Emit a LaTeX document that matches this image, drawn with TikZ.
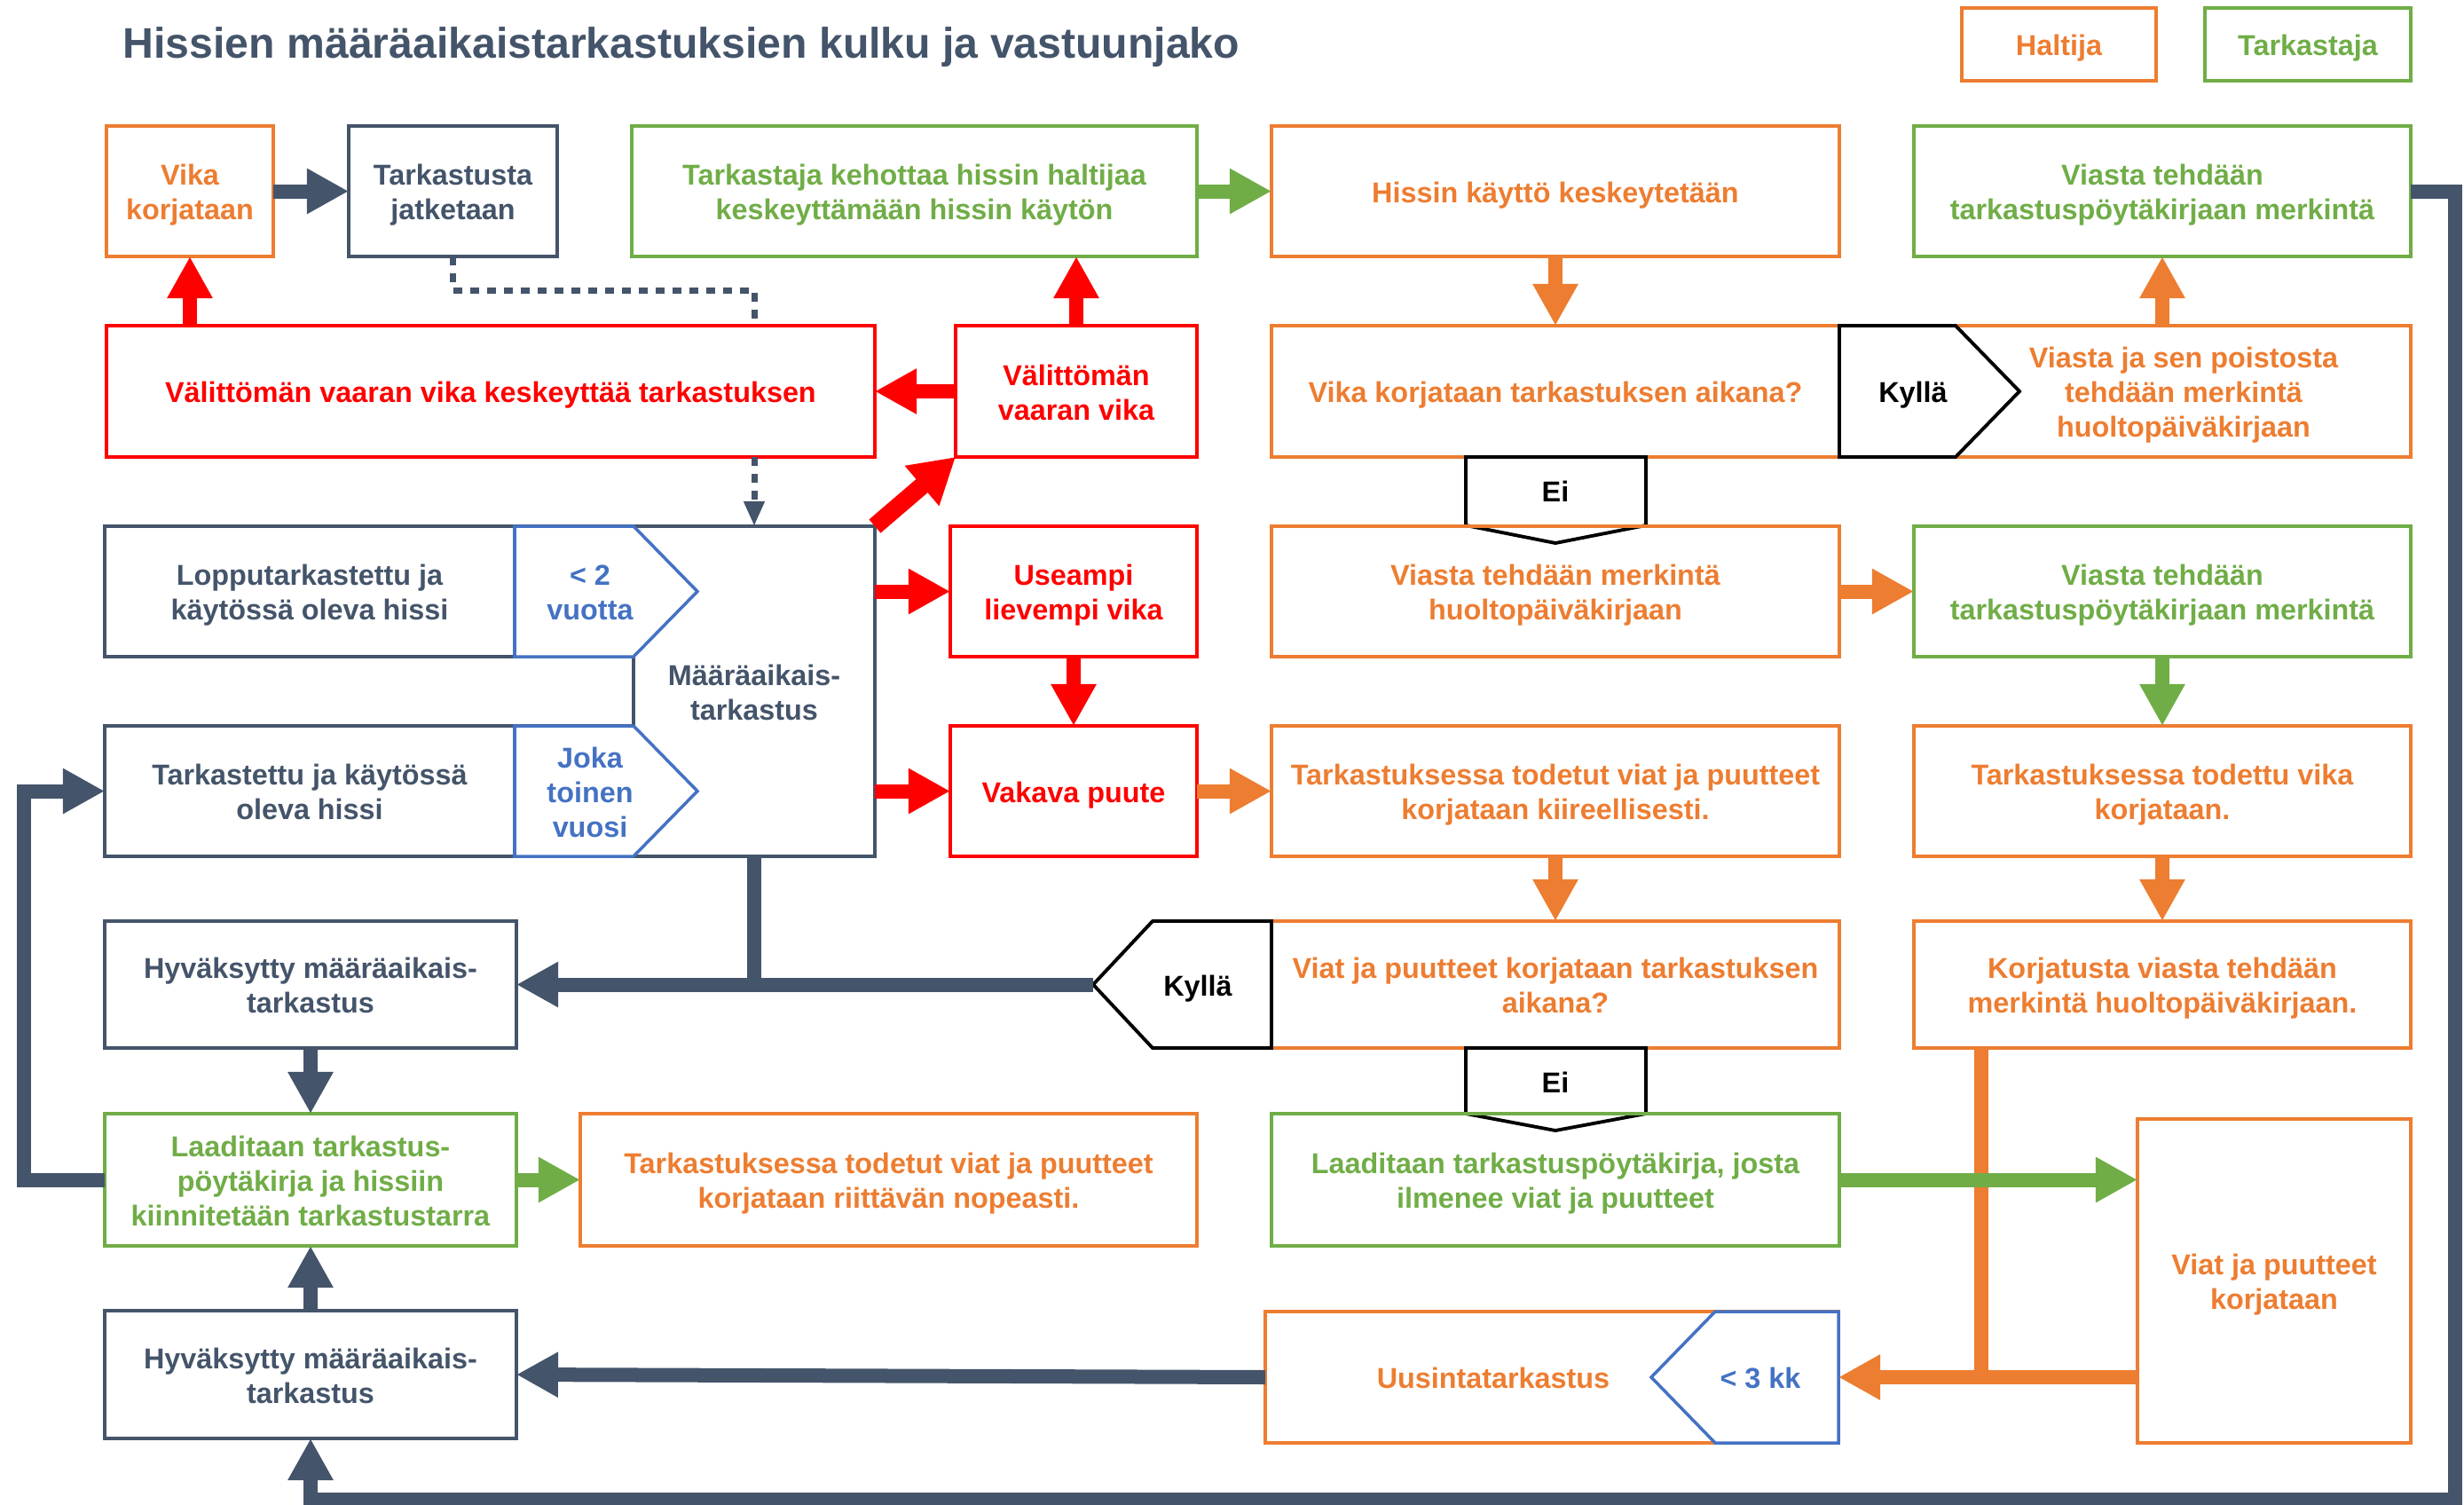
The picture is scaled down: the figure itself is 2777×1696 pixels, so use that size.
\documentclass[tikz,border=0pt]{standalone}
\usepackage{fontspec}
\setmainfont{Liberation Sans}
\usetikzlibrary{arrows.meta,calc}
\definecolor{slate}{HTML}{44546A}
\definecolor{haltija}{HTML}{ED7D31}
\definecolor{tarkastaja}{HTML}{70AD47}
\definecolor{vaara}{HTML}{FF0000}
\definecolor{aika}{HTML}{4472C4}
% fixed line box: every text block gets the same ascent on its first line
% and the same descent on its last line, so blocks centre by line metrics
\newcommand\linestrut{\rule[-1.95pt]{0pt}{11.1pt}}
\newcommand\boxtext[1]{\linestrut#1\linestrut}
\tikzset{
  every node/.style={font=\bfseries\fontsize{9.2}{11.1}\selectfont},
  wh/.style 2 args={minimum width=#1*0.01cm, minimum height=#2*0.01cm},
  box/.style={rectangle, draw=#1, text=#1, line width=1pt, inner sep=0pt, outer sep=0pt, align=center},
  lbl/.style={text=#1, align=center, inner sep=0pt, outer sep=0pt},
  area/.style 2 args={rectangle, inner sep=0pt, outer sep=0pt, minimum width=#1*0.01cm, minimum height=#2*0.01cm},
  tag/.style={draw=black, fill=white, line width=1.1pt, line join=miter},
  period/.style={draw=aika, fill=white, line width=1pt, line join=miter},
  flow/.style={draw=#1, line width=0.16cm, line join=miter, -{Triangle[length=0.47cm,width=0.48cm]}},
  bigflow/.style={draw=#1, line width=0.2cm, -{Triangle[length=0.5cm,width=0.56cm]}},
  link/.style={draw=#1, line width=0.16cm, line join=miter},
  dots/.style={draw=slate, line width=0.07cm, dash pattern=on 0.1cm off 0.09cm},
}
\begin{document}
\begin{tikzpicture}[x=0.01cm, y=-0.01cm]
\useasboundingbox (0,0) rectangle (2777,1696);

% title and legend
\node[anchor=base west, text=slate, inner sep=0pt, font=\bfseries\fontsize{13.7}{16}\selectfont] (title) at (138,65) {Hissien määräaikaistarkastuksien kulku ja vastuunjako};
\node[box=haltija, wh={219}{82}] (leg1) at (2320.5,50) {\boxtext{Haltija}};
\node[box=tarkastaja, wh={232}{82}] (leg2) at (2601,50) {\boxtext{Tarkastaja}};

% row 1
\node[box=haltija, wh={188}{147}] (vika) at (214,215.5) {\boxtext{Vika\\korjataan}};
\node[box=slate, wh={235}{147}] (jatk) at (510.5,215.5) {\boxtext{Tarkastusta\\jatketaan}};
\node[box=tarkastaja, wh={637}{147}] (kehot) at (1030.5,215.5) {\boxtext{Tarkastaja kehottaa hissin haltijaa\\keskeyttämään hissin käytön}};
\node[box=haltija, wh={640}{147}] (kesk) at (1753,215.5) {\boxtext{Hissin käyttö keskeytetään}};
\node[box=tarkastaja, wh={560}{147}] (tpk1) at (2437,215.5) {\boxtext{Viasta tehdään\\tarkastuspöytäkirjaan merkintä}};

% row 2
\node[box=vaara, wh={866}{148}] (keskt) at (553,441) {\boxtext{Välittömän vaaran vika keskeyttää tarkastuksen}};
\node[box=vaara, wh={272}{148}] (vvv) at (1213,441) {\boxtext{Välittömän\\vaaran vika}};
\node[box=haltija, wh={1284}{148}] (korj) at (2075,441) {};
\node[lbl=haltija] (korjq) at (1753,441) {\boxtext{Vika korjataan tarkastuksen aikana?}};
\node[lbl=haltija] (korjk) at (2461,441) {\boxtext{Viasta ja sen poistosta\\tehdään merkintä\\huoltopäiväkirjaan}};
\draw[tag] (2073,367) -- (2204,367) -- (2276,441) -- (2204,515) -- (2073,515) -- cycle;
\node[lbl=black] (kylla1) at (2156,441) {\boxtext{Kyllä}};
\draw[tag] (1652,515) -- (1652,592) -- (1753,612) -- (1855,592) -- (1855,515) -- cycle;
\node[lbl=black] (ei1) at (1753,553) {\boxtext{Ei}};

% periodic inspection block
\draw[slate, line width=1pt, line join=miter] (118,593) -- (986,593) -- (986,965) -- (118,965) -- (118,818) -- (714,818) -- (714,740) -- (118,740) -- cycle;
\node[area={272}{372}, lbl=slate] (maara) at (850,779) {\boxtext{Määräaikais-\\tarkastus}};
\node[area={462}{147}, lbl=slate] (lopp) at (349,666.5) {\boxtext{Lopputarkastettu ja\\käytössä oleva hissi}};
\node[area={462}{147}, lbl=slate] (tark) at (349,891.5) {\boxtext{Tarkastettu ja käytössä\\oleva hissi}};
\draw[period] (580,593) -- (714,593) -- (786,666.5) -- (714,740) -- (580,740) -- cycle;
\node[lbl=aika] (v2) at (665,666.5) {\boxtext{< 2\\vuotta}};
\draw[period] (580,818) -- (714,818) -- (786,891.5) -- (714,965) -- (580,965) -- cycle;
\node[lbl=aika] (v1) at (665,891.5) {\boxtext{Joka\\toinen\\vuosi}};

% rows 3 and 4
\node[box=vaara, wh={278}{147}] (useampi) at (1210,666.5) {\boxtext{Useampi\\lievempi vika}};
\node[box=haltija, wh={640}{147}] (hpk1) at (1753,666.5) {\boxtext{Viasta tehdään merkintä\\huoltopäiväkirjaan}};
\node[box=tarkastaja, wh={560}{147}] (tpk2) at (2437,666.5) {\boxtext{Viasta tehdään\\tarkastuspöytäkirjaan merkintä}};
\node[box=vaara, wh={278}{147}] (vakava) at (1210,891.5) {\boxtext{Vakava puute}};
\node[box=haltija, wh={640}{147}] (kiire) at (1753,891.5) {\boxtext{Tarkastuksessa todetut viat ja puutteet\\korjataan kiireellisesti.}};
\node[box=haltija, wh={560}{147}] (todettu) at (2437,891.5) {\boxtext{Tarkastuksessa todettu vika\\korjataan.}};

% row 5
\node[box=slate, wh={464}{143}] (hyv1) at (350,1109.5) {\boxtext{Hyväksytty määräaikais-\\tarkastus}};
\node[box=haltija, wh={640}{143}] (aikana2) at (1753,1109.5) {\boxtext{Viat ja puutteet korjataan tarkastuksen\\aikana?}};
\node[box=haltija, wh={560}{143}] (korjatusta) at (2437,1109.5) {\boxtext{Korjatusta viasta tehdään\\merkintä huoltopäiväkirjaan.}};
\draw[tag] (1433,1038) -- (1299,1038) -- (1232,1109.5) coordinate (k2tip) -- (1299,1181) -- (1433,1181) -- cycle;
\node[lbl=black] (kylla2) at (1350,1110) {\boxtext{Kyllä}};
\draw[tag] (1652,1181) -- (1652,1255) -- (1753,1274) -- (1855,1255) -- (1855,1181) -- cycle;
\node[lbl=black] (ei2) at (1753,1219) {\boxtext{Ei}};

% row 6
\node[box=tarkastaja, wh={464}{149}] (laad1) at (350,1329.5) {\boxtext{Laaditaan tarkastus-\\pöytäkirja ja hissiin\\kiinnitetään tarkastustarra}};
\node[box=haltija, wh={695}{149}] (riitt) at (1001.5,1329.5) {\boxtext{Tarkastuksessa todetut viat ja puutteet\\korjataan riittävän nopeasti.}};
\node[box=tarkastaja, wh={640}{149}] (laad2) at (1753,1329.5) {\boxtext{Laaditaan tarkastuspöytäkirja, josta\\ilmenee viat ja puutteet}};
\node[box=haltija, wh={308}{365}] (vpk) at (2563,1443.5) {\boxtext{Viat ja puutteet\\korjataan}};

% row 7
\node[box=slate, wh={464}{144}] (hyv2) at (350,1549) {\boxtext{Hyväksytty määräaikais-\\tarkastus}};
\node[box=haltija, wh={646}{148}] (uusi) at (1749,1552) {};
\node[lbl=haltija] (uusit) at (1683,1552) {\boxtext{Uusintatarkastus}};
\draw[period] (2072,1478) -- (1933,1478) -- (1861,1552) -- (1933,1626) -- (2072,1626) -- cycle;
\node[lbl=aika] (v3) at (1984,1552) {\boxtext{< 3 kk}};

% connectors
\draw[flow=slate] (vika.east) -- (jatk.west);
\draw[flow=tarkastaja] (kehot.east) -- (kesk.west);
\draw[flow=haltija] (kesk.south) -- (kesk.south |- korj.north);
\draw[flow=haltija] (tpk1.south |- korj.north) -- (tpk1.south);
\draw[flow=vaara] (vika.south |- keskt.north) -- (vika.south);
\draw[flow=vaara] (vvv.north) -- (vvv.north |- kehot.south);
\draw[flow=vaara] (vvv.west) -- (keskt.east);
\draw[bigflow=vaara] (maara.north east) -- (vvv.south west);
\draw[flow=vaara] (maara.east |- useampi.west) -- (useampi.west);
\draw[flow=vaara] (maara.east |- vakava.west) -- (vakava.west);
\draw[flow=vaara] (useampi.south) -- (vakava.north);
\draw[flow=haltija] (vakava.east) -- (kiire.west);
\draw[flow=haltija] (hpk1.east) -- (tpk2.west);
\draw[flow=tarkastaja] (tpk2.south) -- (todettu.north);
\draw[flow=haltija] (kiire.south) -- (aikana2.north);
\draw[flow=haltija] (todettu.south) -- (korjatusta.north);

\coordinate (d1) at ($(maara.north |- keskt.north)+(0,-7)$);
\draw[dots] (jatk.south) -- ++(0,38) -| (d1);
\draw[dots, -{Triangle[length=0.28cm,width=0.22cm]}] (keskt.south -| maara.north) -- (maara.north);

\draw[link=slate] (maara.south) -- (maara.south |- hyv1.east);
\draw[flow=slate] (k2tip) -- (hyv1.east);
\draw[flow=slate] (hyv1.south) -- (laad1.north);
\draw[flow=slate] (hyv2.north) -- (laad1.south);
\draw[flow=slate] (laad1.west) -- ++(-91,0) |- (tark.west);
\draw[flow=tarkastaja] (laad1.east) -- (riitt.west);

\coordinate (j1) at ($(korjatusta.south west)+(76,0)$);
\draw[link=haltija] (j1) -- (j1 |- uusi.east);
\draw[flow=tarkastaja] (laad2.east) -- (laad2.east -| vpk.west);
\draw[flow=haltija] (vpk.west |- uusi.east) -- (uusi.east);
\draw[flow=slate] (uusi.west) -- (hyv2.east);
\draw[flow=slate] (tpk1.east) -- (2767,215.5) -- (2767,1690) -| (hyv2.south);
\end{tikzpicture}
\end{document}
